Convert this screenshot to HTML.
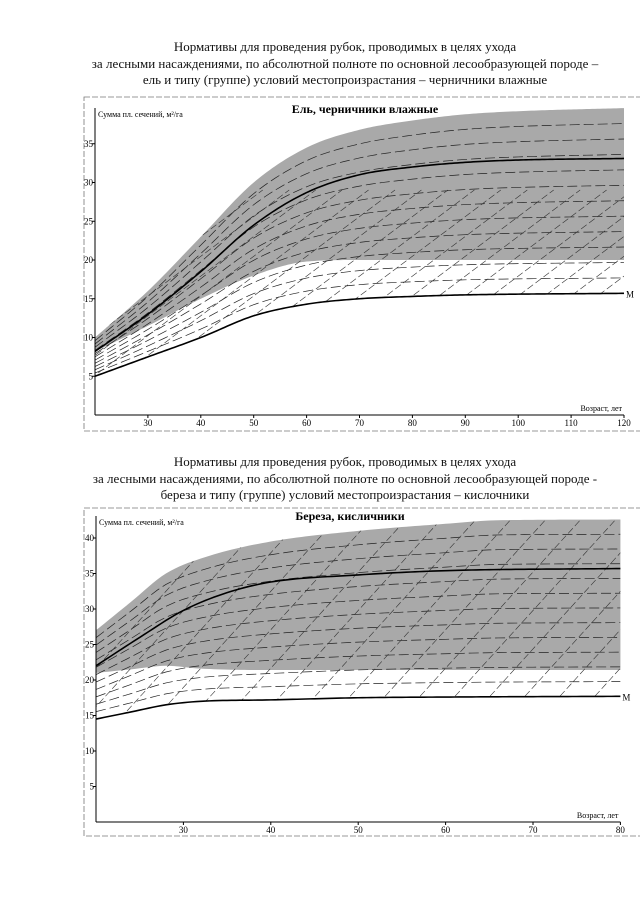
<!DOCTYPE html>
<html><head><meta charset="utf-8">
<style>
html,body{margin:0;padding:0;background:#fff;width:640px;height:905px;overflow:hidden}
.t{position:absolute;left:0;width:690px;text-align:center;font-family:"Liberation Serif","Noto Serif CJK SC",serif;font-size:13px;color:#111;line-height:16.5px}
svg{position:absolute;left:0;top:0}
</style></head><body>
<div class="t" style="top:39px">Нормативы для проведения рубок, проводимых в целях ухода<br>за лесными насаждениями, по абсолютной полноте по основной лесообразующей породе –<br>ель и типу (группе) условий местопроизрастания – черничники влажные</div>
<div class="t" style="top:454px">Нормативы для проведения рубок, проводимых в целях ухода<br>за лесными насаждениями, по абсолютной полноте по основной лесообразующей породе -<br>береза и типу (группе) условий местопроизрастания – кислочники</div>
<svg id="s" width="640" height="905" xmlns="http://www.w3.org/2000/svg"></svg>
<script>
var S=document.getElementById('s'),NS='http://www.w3.org/2000/svg';
function el(n,a,t){var e=document.createElementNS(NS,n);for(var k in a)e.setAttribute(k,a[k]);if(t)e.textContent=t;S.appendChild(e);return e;}
function interp(P,x){var n=P.length;if(x<=P[0][0])return P[0][1];if(x>=P[n-1][0])return P[n-1][1];
 var d=[],m=[],i;for(i=0;i<n-1;i++)d.push((P[i+1][1]-P[i][1])/(P[i+1][0]-P[i][0]));
 m[0]=d[0];m[n-1]=d[n-2];for(i=1;i<n-1;i++){m[i]=(d[i-1]*d[i]<=0)?0:(d[i-1]+d[i])/2;}
 for(i=0;i<n-1;i++){if(d[i]==0){m[i]=0;m[i+1]=0;continue;}var a=m[i]/d[i],b=m[i+1]/d[i],s=a*a+b*b;if(s>9){var t=3/Math.sqrt(s);m[i]=t*a*d[i];m[i+1]=t*b*d[i];}}
 for(i=0;i<n-1;i++){if(x<=P[i+1][0]){var h=P[i+1][0]-P[i][0],t=(x-P[i][0])/h,t2=t*t,t3=t2*t;
  return (2*t3-3*t2+1)*P[i][1]+(t3-2*t2+t)*h*m[i]+(-2*t3+3*t2)*P[i+1][1]+(t3-t2)*h*m[i+1];}}}
function chart(c,id){
 var X=function(v){return c.x0+(v-c.xmin)*c.kx},Y=function(v){return c.y0-v*c.ky};
 el('rect',{x:c.fx,y:c.fy,width:c.fw,height:c.fh,fill:'none',stroke:'#777','stroke-width':0.8,'stroke-dasharray':'6 2'});
 var up=[],lo=[],i,x;
 for(x=c.xmin;x<=c.xmax+0.01;x+=0.5){up.push(X(x)+','+Y(interp(c.U,x)));}
 for(x=c.xmax;x>=c.xmin-0.01;x-=0.5){lo.push(X(x)+','+Y(interp(c.G,x)));}
 el('polygon',{points:up.concat(lo).join(' '),fill:'#a9a9a9'});
 var cp=el('clipPath',{id:id});var mp=[];
 for(x=c.xmax;x>=c.xmin-0.01;x-=0.5){mp.push(X(x)+','+Y(interp(c.M,x)));}
 var pg=document.createElementNS(NS,'polygon');pg.setAttribute('points',up.concat(mp).join(' '));cp.appendChild(pg);
 var g=el('g',{'clip-path':'url(#'+id+')'});
 function add(n,a){var e=document.createElementNS(NS,n);for(var k in a)e.setAttribute(k,a[k]);g.appendChild(e);}
 for(i=1;i<12;i++){var f=i/12,p=[];
  for(x=c.xmin;x<=c.xmax+0.01;x+=1){var m=interp(c.M,x),u=interp(c.U,x);p.push(X(x)+','+Y(m+(u-m)*f));}
  add('polyline',{points:p.join(' '),fill:'none',stroke:'#222','stroke-width':0.7,'stroke-dasharray':'10 4'});}
 for(i=-10;i<30;i++){var sx=c.xmin+i*c.dstep;
  add('line',{x1:X(sx),y1:Y(0),x2:X(sx)+300,y2:Y(0)-300*c.dslope,stroke:'#333','stroke-width':0.6,'stroke-dasharray':'7 3'});}
 [c.Main,c.M].forEach(function(P){var p=[];for(x=c.xmin;x<=c.xmax+0.01;x+=0.5)p.push(X(x)+','+Y(interp(P,x)));
  el('polyline',{points:p.join(' '),fill:'none',stroke:'#000','stroke-width':1.6});});
 el('text',{x:X(c.xmax)+2,y:Y(interp(c.M,c.xmax))+4,'font-size':9,'font-family':'Liberation Serif,serif'},'M');
 el('line',{x1:c.x0,y1:c.ytop,x2:c.x0,y2:c.y0,stroke:'#000','stroke-width':1});
 el('line',{x1:c.x0,y1:c.y0,x2:X(c.xmax),y2:c.y0,stroke:'#000','stroke-width':1});
 c.xt.forEach(function(v){el('line',{x1:X(v),y1:c.y0,x2:X(v),y2:c.y0+3,stroke:'#000'});
  el('text',{x:X(v),y:c.y0+11,'text-anchor':'middle','font-size':9,'font-family':'Liberation Serif,serif'},v);});
 c.yt.forEach(function(v){el('line',{x1:c.x0-3,y1:Y(v),x2:c.x0,y2:Y(v),stroke:'#000'});
  el('text',{x:c.x0-2,y:Y(v)+3,'text-anchor':'end','font-size':9,'font-family':'Liberation Serif,serif'},v);});
 el('text',{x:c.x0+3,y:c.ytop+9,'font-size':8,'font-family':'Liberation Serif,serif'},'Сумма пл. сечений, м²/га');
 el('text',{x:X(c.xmax)-2,y:c.y0-4,'text-anchor':'end','font-size':8,'font-family':'Liberation Serif,serif'},'Возраст, лет');
 el('text',{x:c.tx,y:c.ty,'text-anchor':'middle','font-size':12,'font-weight':'bold','font-family':'Liberation Serif,serif'},c.title);
}
chart({fx:84,fy:97,fw:560,fh:334,x0:95,y0:415,kx:5.29,ky:7.75,xmin:20,xmax:120,ytop:108,
 U:[[20,10],[30,16],[40,23],[50,30],[60,34.5],[70,36.8],[80,38],[90,38.8],[100,39.2],[120,39.6]],
 G:[[20,8.2],[30,11.5],[40,15],[50,18],[60,19.8],[70,20],[120,20]],
 Main:[[20,8.2],[30,13],[40,18.5],[50,24.5],[60,28.7],[70,31],[80,32],[90,32.6],[100,32.9],[120,33.1]],
 M:[[20,5],[30,7.5],[40,10],[50,12.8],[60,14.3],[70,15],[80,15.3],[90,15.5],[120,15.7]],
 dstep:5,dslope:0.75,xt:[30,40,50,60,70,80,90,100,110,120],yt:[5,10,15,20,25,30,35],
 tx:365,ty:113,title:'Ель, черничники влажные'},'c1');
chart({fx:84,fy:508,fw:560,fh:328,x0:96,y0:822,kx:8.74,ky:7.1,xmin:20,xmax:80,ytop:516,
 U:[[20,27],[24,31],[28,35],[33,37.5],[40,39.5],[50,41],[60,42],[66,42.5],[80,42.6]],
 G:[[20,21],[24,21.5],[28,22],[32,21.6],[40,21.4],[80,21.4]],
 Main:[[20,22],[25,26],[30,29.8],[35,32.3],[40,33.8],[50,34.8],[60,35.4],[80,35.7]],
 M:[[20,14.5],[24,15.5],[28,16.5],[32,17],[40,17.2],[50,17.5],[60,17.6],[80,17.7]],
 dstep:4,dslope:1.1,xt:[30,40,50,60,70,80],yt:[5,10,15,20,25,30,35,40],
 tx:350,ty:520,title:'Береза, кисличники'},'c2');
</script>
</body></html>
